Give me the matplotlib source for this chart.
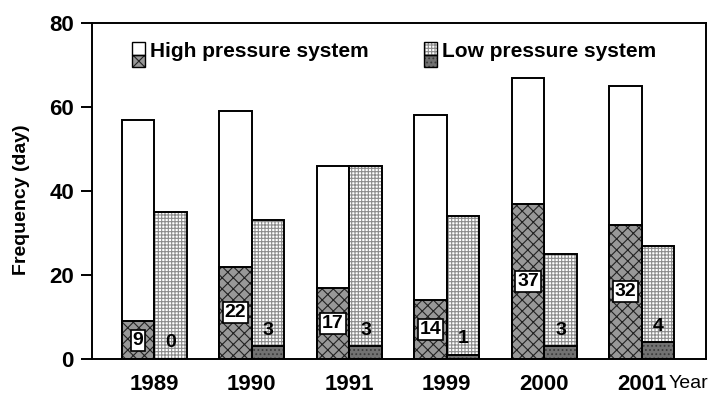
import numpy as np
import matplotlib
matplotlib.use('Agg')
import matplotlib.pyplot as plt
from matplotlib.patches import Rectangle

# Frequency (days) of high / low pressure systems per year
years = ['1989', '1990', '1991', '1999', '2000', '2001']
high_total = [57, 59, 46, 58, 67, 65]
high_part = [9, 22, 17, 14, 37, 32]      # shaded lower part of the high bars
low_total = [35, 33, 46, 34, 25, 27]
low_part = [0, 3, 3, 1, 3, 4]            # shaded lower part of the low bars

plt.rcParams['font.family'] = ['Liberation Sans', 'DejaVu Sans']
plt.rcParams['hatch.linewidth'] = 0.8

# fill styles
HI_FACE, HI_HATCH, HI_HC = '#989898', 'xxx', '#222222'
LO_FACE, LO_HATCH, LO_HC = '#ffffff', '+++++', '#8c8c8c'
LD_FACE, LD_HATCH, LD_HC = '#727272', '....', '#3c3c3c'


def hatched_bar(ax, x, h, width, face, hatch, hcolor, align):
    # hatch drawn first with its own colour, black outline on top
    ax.bar(x, h, width, align=align, color=face, hatch=hatch,
           edgecolor=hcolor, linewidth=0, zorder=2)
    ax.bar(x, h, width, align=align, fill=False, edgecolor='black',
           linewidth=1.4, zorder=3)


fig = plt.figure(figsize=(7.11, 4.04), dpi=100)
ax = fig.add_axes([92/711, 1-359/404, (706-92)/711, (359-23)/404])

x = np.arange(len(years))
w = 0.334

# high pressure bars (left of each group)
ax.bar(x, high_total, -w, align='edge', color='white', edgecolor='black',
       linewidth=1.4, zorder=2)
hatched_bar(ax, x, high_part, -w, HI_FACE, HI_HATCH, HI_HC, 'edge')

# low pressure bars (right of each group)
hatched_bar(ax, x, low_total, w, LO_FACE, LO_HATCH, LO_HC, 'edge')
hatched_bar(ax, x, low_part, w, LD_FACE, LD_HATCH, LD_HC, 'edge')

# value labels
for i in range(len(years)):
    ax.text(x[i] - w/2, high_part[i]/2, str(high_part[i]), ha='center',
            va='center', fontsize=14, fontweight='bold', zorder=5,
            bbox=dict(boxstyle='square,pad=0.1', fc='white', ec='black', lw=1.2))
    ax.text(x[i] + w/2, low_part[i] + 1.8, str(low_part[i]), ha='center',
            va='bottom', fontsize=14, fontweight='bold', zorder=5)

ax.set_xlim(-0.64, 5.66)
ax.set_ylim(0, 80)
ax.set_yticks([0, 20, 40, 60, 80])
ax.set_xticks(x)
ax.set_xticklabels(years)
ax.tick_params(axis='y', direction='out', length=8, width=1.4, pad=5,
               labelsize=16)
ax.tick_params(axis='x', length=0, pad=11, labelsize=16)
for lab in ax.get_xticklabels() + ax.get_yticklabels():
    lab.set_fontweight('bold')
for s in ax.spines.values():
    s.set_linewidth(1.4)

fig.text(22/711, 1-200/404, 'Frequency (day)', rotation=90, ha='center',
         va='center', fontsize=14, fontweight='bold')
fig.text(708/711, 1-383/404, 'Year', ha='right', va='center', fontsize=14)

# legend: split swatches, plain fill on top, shaded part below
def swatch(x0, top_face, top_hatch, top_hc, bot_face, bot_hatch, bot_hc):
    sw = 0.021
    for y0, sh, fc, ht, hc in [(0.906, 0.037, top_face, top_hatch, top_hc),
                               (0.869, 0.037, bot_face, bot_hatch, bot_hc)]:
        ax.add_patch(Rectangle((x0, y0), sw, sh, transform=ax.transAxes,
                               facecolor=fc, hatch=ht, edgecolor=hc,
                               linewidth=0, zorder=4))
        ax.add_patch(Rectangle((x0, y0), sw, sh, transform=ax.transAxes,
                               fill=False, edgecolor='black', linewidth=1.0,
                               zorder=5))

swatch(0.065, 'white', None, 'black', HI_FACE, HI_HATCH, HI_HC)
swatch(0.541, LO_FACE, LO_HATCH, LO_HC, LD_FACE, LD_HATCH, LD_HC)
ax.text(0.094, 0.899, 'High pressure system', transform=ax.transAxes,
        ha='left', va='baseline', fontsize=15, fontweight='bold')
ax.text(0.570, 0.899, 'Low pressure system', transform=ax.transAxes,
        ha='left', va='baseline', fontsize=15, fontweight='bold')

fig.savefig('out.png', dpi=100)
